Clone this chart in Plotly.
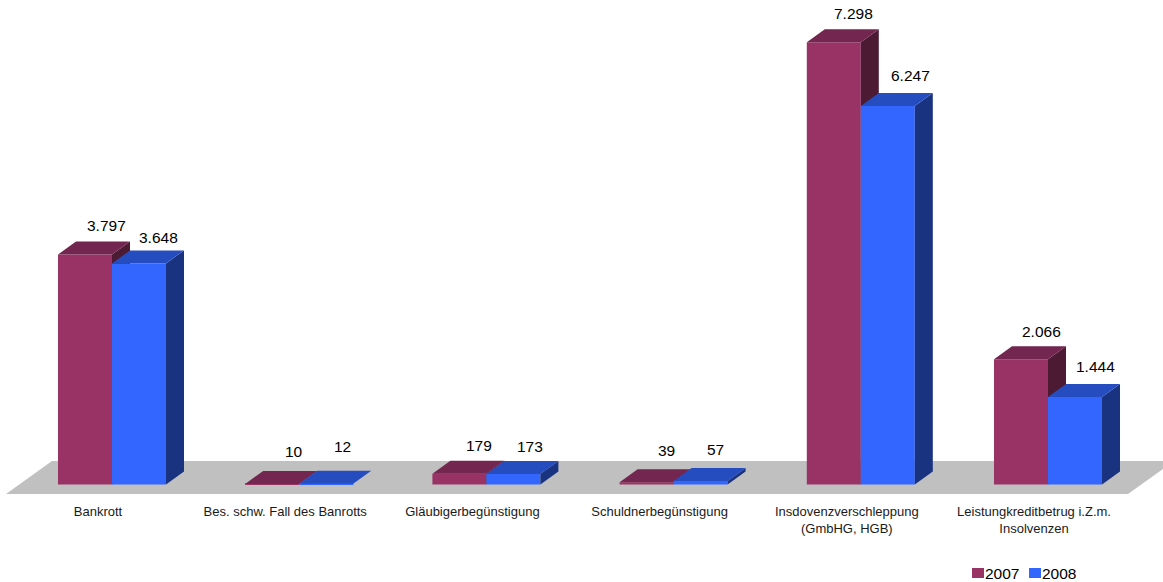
import plotly.graph_objects as go

categories = [
    "Bankrott",
    "Bes. schw. Fall des Banrotts",
    "Gläubigerbegünstigung",
    "Schuldnerbegünstigung",
    "Insdovenzverschleppung<br>(GmbHG, HGB)",
    "Leistungkreditbetrug i.Z.m.<br>Insolvenzen",
]
values_2007 = [3797, 10, 179, 39, 7298, 2066]
values_2008 = [3648, 12, 173, 57, 6247, 1444]

# Label offsets from the middle of each bar's top edge, in screen pixels.
label_dx_2007 = [21, 22, 20, 20, 20, 20]
label_dy_2007 = [29, 32, 28, 32, 29, 28]
label_dx_2008 = [19, 16, 17, 15, 23, 20]
label_dy_2008 = [26, 37, 28, 32, 30, 30]

WIDTH, HEIGHT = 1163, 582
PLOT_BOTTOM = 495
ZERO_PX = 484.5
FIRST_GROUP_PX = 112
GROUP_PX = 187.2
VALUE_PX = 0.0606

BAR_W = 54 / GROUP_PX
DEPTH_X = 18 / GROUP_PX
DEPTH_Y = 13 / VALUE_PX

COL_2007 = ("#993366", "#732650", "#4D1A33")
COL_2008 = ("#3366FF", "#264DBF", "#1A3380")
FLOOR = "#C0C0C0"
FONT = "Liberation Sans, Arial, sans-serif"

x_range = [-FIRST_GROUP_PX / GROUP_PX, (WIDTH - FIRST_GROUP_PX) / GROUP_PX]
y_range = [(ZERO_PX - PLOT_BOTTOM) / VALUE_PX, ZERO_PX / VALUE_PX]

fig = go.Figure()


def polygons(lefts, vals, face):
    """Collect one oblique face per bar into a single None-separated outline."""
    xs, ys = [], []
    for left, v in zip(lefts, vals):
        right = left + BAR_W
        if face == "top":
            px = [left, right, right + DEPTH_X, left + DEPTH_X, left]
            py = [v, v, v + DEPTH_Y, v + DEPTH_Y, v]
        else:
            px = [right, right + DEPTH_X, right + DEPTH_X, right, right]
            py = [0, DEPTH_Y, v + DEPTH_Y, v, 0]
        xs += px + [None]
        ys += py + [None]
    return xs, ys


def add_series(name, vals, colours, offset, xaxis, yaxis):
    front, top, side = colours
    positions = list(range(len(vals)))
    lefts = [p + offset for p in positions]
    fig.add_trace(go.Bar(
        x=positions, y=vals, width=BAR_W, offset=offset, name=name,
        marker=dict(color=front, line=dict(width=0)),
        xaxis=xaxis, yaxis=yaxis, showlegend=False,
    ))
    for face, colour in (("side", side), ("top", top)):
        xs, ys = polygons(lefts, vals, face)
        fig.add_trace(go.Scatter(
            x=xs, y=ys, mode="lines", fill="toself", fillcolor=colour,
            line=dict(width=0, color=colour), hoverinfo="skip",
            xaxis=xaxis, yaxis=yaxis, showlegend=False,
        ))


# The later series sits on an overlaying subplot so its front faces cover the
# side faces of the earlier series.
add_series("2007", values_2007, COL_2007, -BAR_W, "x", "y")
add_series("2008", values_2008, COL_2008, 0, "x2", "y2")

annotations = []
for vals, offset, dxs, dys in (
    (values_2007, -BAR_W / 2, label_dx_2007, label_dy_2007),
    (values_2008, BAR_W / 2, label_dx_2008, label_dy_2008),
):
    for i, v in enumerate(vals):
        annotations.append(dict(
            x=i + offset, y=v, xref="x", yref="y", showarrow=False,
            xshift=dxs[i], yshift=dys[i],
            text=f"{v:,}".replace(",", "."),
            font=dict(family=FONT, size=15.5, color="#000000"),
            xanchor="center", yanchor="middle",
        ))

# Legend row under the plot.
legend_items = [("2007", COL_2007[0], 972, 985), ("2008", COL_2008[0], 1029, 1042)]
shapes = [dict(
    type="path", xref="x", yref="y", layer="below",
    fillcolor=FLOOR, line=dict(width=0),
    path=(
        f"M {(6 - FIRST_GROUP_PX) / GROUP_PX} {(ZERO_PX - 494) / VALUE_PX} "
        f"L {(52 - FIRST_GROUP_PX) / GROUP_PX} {(ZERO_PX - 461) / VALUE_PX} "
        f"L {(1174 - FIRST_GROUP_PX) / GROUP_PX} {(ZERO_PX - 461) / VALUE_PX} "
        f"L {(1128 - FIRST_GROUP_PX) / GROUP_PX} {(ZERO_PX - 494) / VALUE_PX} Z"
    ),
)]
plot_h = PLOT_BOTTOM
for label, colour, swatch_x, text_x in legend_items:
    shapes.append(dict(
        type="rect", xref="paper", yref="paper",
        x0=swatch_x / WIDTH, x1=(swatch_x + 12) / WIDTH,
        y0=(plot_h - 578) / plot_h, y1=(plot_h - 568) / plot_h,
        fillcolor=colour, line=dict(width=0),
    ))
    annotations.append(dict(
        x=text_x / WIDTH, y=(plot_h - 573) / plot_h, xref="paper", yref="paper",
        text=label, showarrow=False, xanchor="left", yanchor="middle",
        font=dict(family=FONT, size=15.5, color="#000000"), xshift=-2,
    ))

tick_shift = 14 / GROUP_PX
fig.update_layout(
    width=WIDTH, height=HEIGHT, autosize=False,
    margin=dict(l=0, r=0, t=0, b=HEIGHT - PLOT_BOTTOM, pad=0),
    paper_bgcolor="#FFFFFF", plot_bgcolor="#FFFFFF",
    showlegend=False, barmode="overlay",
    shapes=shapes, annotations=annotations,
    xaxis=dict(
        range=x_range, showgrid=False, zeroline=False, showline=False,
        tickmode="array", tickvals=[i - tick_shift for i in range(len(categories))],
        ticktext=categories, ticks="", tickangle=0, ticklabelstandoff=7,
        tickfont=dict(family=FONT, size=13, color="#1A1A1A"),
    ),
    yaxis=dict(range=y_range, visible=False),
    xaxis2=dict(range=x_range, overlaying="x", visible=False),
    yaxis2=dict(range=y_range, overlaying="y", visible=False),
)

fig.write_html("out.html", config={"displayModeBar": False})
